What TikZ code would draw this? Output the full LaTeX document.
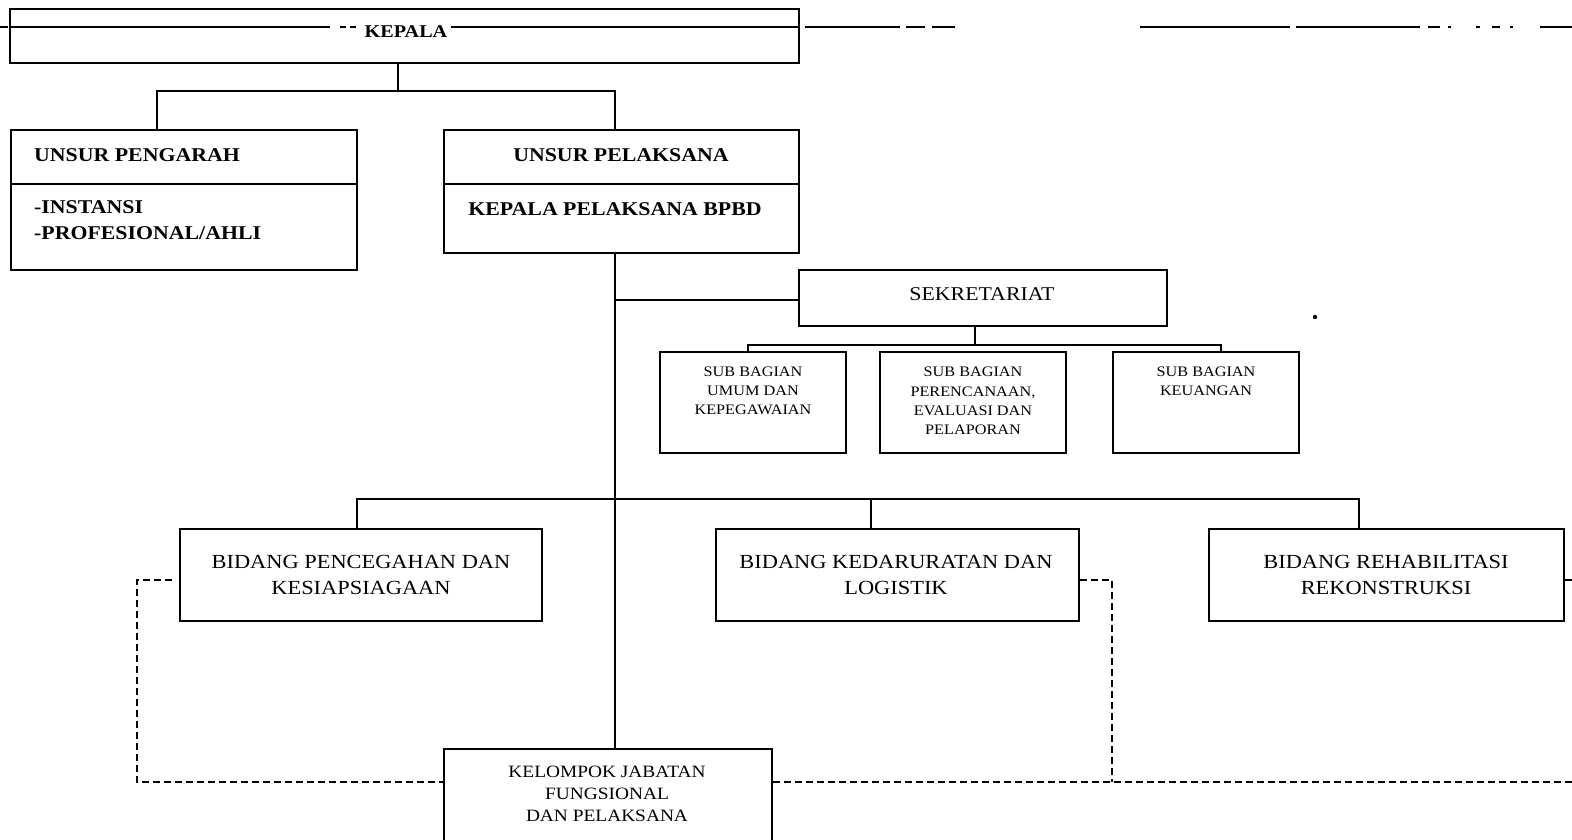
\documentclass[tikz,border=0pt]{standalone}
\usepackage{fontspec}
\setmainfont{Liberation Serif}[FakeStretch=1.12]
\begin{document}
\begin{tikzpicture}[x=1pt,y=-1pt,line join=miter,
  box/.style={draw,line width=2pt,inner sep=0pt,rectangle},
  conn/.style={line width=1.8pt},
  thinconn/.style={line width=1.1pt},
  dsh/.style={line width=1.7pt,dash pattern=on 7pt off 4pt},
  scan/.style={line width=1.1pt},
  txt/.style={inner sep=0pt,align=center},
  hd/.style={txt,font=\bfseries\fontsize{19.5}{26}\selectfont},
  bid/.style={txt,font=\fontsize{20}{26}\selectfont},
  subt/.style={txt,font=\fontsize{14.5}{19.3}\selectfont},
]
\useasboundingbox (0,0) rectangle (1572,839);
\begin{scope}
\clip (0,0) rectangle (1572,839);
% boxes
\node[box,minimum width=789pt,minimum height=54pt] (kepala) at (404.5,36) {};
\node[box,minimum width=346pt,minimum height=140pt] (pengarah) at (184,200) {};
\node[box,minimum width=355pt,minimum height=123pt] (pelaksana) at (621.5,191.5) {};
\node[box,minimum width=368pt,minimum height=56pt] (sekr) at (983,298) {};
\node[box,minimum width=186pt,minimum height=101pt] (sub1) at (753,402.5) {};
\node[box,minimum width=186pt,minimum height=101pt] (sub2) at (973,402.5) {};
\node[box,minimum width=186pt,minimum height=101pt] (sub3) at (1206,402.5) {};
\node[box,minimum width=362pt,minimum height=92pt] (bid1) at (361,575) {};
\node[box,minimum width=363pt,minimum height=92pt] (bid2) at (897.5,575) {};
\node[box,minimum width=355pt,minimum height=92pt] (bid3) at (1386.5,575) {};
\node[box,minimum width=328pt,minimum height=120pt] (kel) at (608,809) {};
% dividers
\draw[line width=2pt] (pengarah.west |- 0,184) -- (pengarah.east |- 0,184);
\draw[line width=2pt] (pelaksana.west |- 0,184) -- (pelaksana.east |- 0,184);
% scan line across top
\draw[scan] (0,27) -- (8,27);
\draw[scan] (kepala.west |- 0,27) -- (330,27);
\draw[scan] (340,27) -- (346,27) (350,27) -- (356,27);
\draw[scan] (451,27) -- (kepala.east |- 0,27);
\draw[scan] (805,27) -- (900,27) (906,27) -- (925,27) (932,27) -- (955,27);
\draw[scan] (1140,27) -- (1290,27) (1296,27) -- (1420,27) (1428,27) -- (1440,27)
  (1448,27) -- (1451,27) (1476,27) -- (1480,27) (1492,27) -- (1500,27) (1510,27) -- (1513,27)
  (1540,27) -- (1572,27);
% texts
\node[txt,font=\bfseries\fontsize{18}{22}\selectfont] (tkepala) at (406,32) {KEPALA};
\node[hd,anchor=west] (tpengarah) at (34,155) {UNSUR PENGARAH};
\node[hd,anchor=west,align=left] (tpengarah2) at (34,220) {-INSTANSI\\-PROFESIONAL/AHLI};
\node[hd] (tpelaksana) at (621,155) {UNSUR PELAKSANA};
\node[hd] (tpelaksana2) at (615,209) {KEPALA PELAKSANA BPBD};
\node[txt,font=\fontsize{19.5}{24}\selectfont] (tsekr) at (982,294) {SEKRETARIAT};
\node[subt] (tsub1) at (753,391) {SUB BAGIAN\\UMUM DAN\\KEPEGAWAIAN};
\node[subt] (tsub2) at (973,401) {SUB BAGIAN\\PERENCANAAN,\\EVALUASI DAN\\PELAPORAN};
\node[subt] (tsub3) at (1206,381.5) {SUB BAGIAN\\KEUANGAN};
\node[bid] (tbid1) at (361,575) {BIDANG PENCEGAHAN DAN\\KESIAPSIAGAAN};
\node[bid] (tbid2) at (896,575) {BIDANG KEDARURATAN DAN\\LOGISTIK};
\node[bid] (tbid3) at (1386,575) {BIDANG REHABILITASI\\REKONSTRUKSI};
\node[txt,font=\fontsize{17.3}{22}\selectfont] (tkel) at (607,794) {KELOMPOK JABATAN\\FUNGSIONAL\\DAN PELAKSANA};
% connectors
\coordinate (t1) at (398,91);
\coordinate (tL) at (157,91);
\coordinate (tR) at (615,91);
\draw[conn] (t1 |- kepala.south) -- (t1);
\draw[conn] (tL |- pengarah.north) -- (tL) -- (tR) -- (tR |- pelaksana.north);
\coordinate (m1) at (615,300);
\draw[conn] (m1 |- pelaksana.south) -- (m1 |- kel.north);
\draw[conn] (m1) -- (m1 -| sekr.west);
\coordinate (s0) at (975,345);
\coordinate (sL) at (748,345);
\coordinate (sR) at (1221,345);
\draw[thinconn] (s0 |- sekr.south) -- (s0);
\draw[conn] (sL |- sub1.north) -- (sL) -- (sR) -- (sR |- sub3.north);
\coordinate (b1) at (357,499);
\coordinate (b2) at (871,499);
\coordinate (b3) at (1359,499);
\draw[conn] (b1 |- bid1.north) -- (b1) -- (b3) -- (b3 |- bid3.north);
\draw[thinconn] (b2) -- (b2 |- bid2.north);
% dashed
\coordinate (dL1) at (137,580);
\coordinate (dL) at (137,782);
\coordinate (dM1) at (1112,580);
\coordinate (dM) at (1112,782);
\coordinate (dR) at (1572,782);
\coordinate (eR) at (1572,580);
\draw[dsh] ([xshift=-7pt]dL1 -| bid1.west) -- (dL1) -- (dL) -- (dL -| kel.west);
\draw[dsh] (dM1 -| bid2.east) -- (dM1) -- (dM);
\draw[dsh] (dR -| kel.east) -- (dR);
\draw[conn] (eR -| bid3.east) -- (eR);
% speck
\fill (1315,317) circle (2.2pt);
\end{scope}
\end{tikzpicture}
\end{document}
